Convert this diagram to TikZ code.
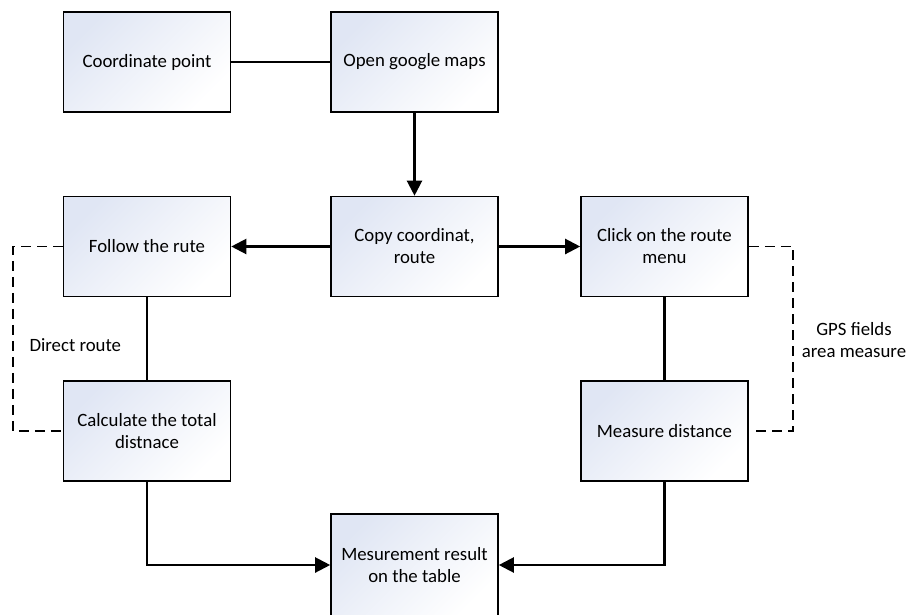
\documentclass[tikz,border=0pt]{standalone}
\usepackage{fontspec}
\setmainfont{Carlito}
\usetikzlibrary{arrows.meta}
\definecolor{boxtop}{RGB}{224,230,244}
\begin{document}
\begin{tikzpicture}[x=1pt,y=-1pt,
  txt/.style={font=\fontsize{18.8}{22}\selectfont, align=center},
  box/.style={txt, draw, line width=1.6pt, minimum width=167pt, minimum height=100pt,
    inner sep=0pt, top color=boxtop, bottom color=white, shading angle=45},
  conn/.style={line width=2.2pt},
  arr/.style={conn, -{Triangle[length=15pt,width=15pt]}},
  dsh/.style={line width=1.4pt, dash pattern=on 10pt off 6pt}]
\clip (0,0) rectangle (908,614);
\useasboundingbox (0,0) rectangle (908,614);
\node[box] (cp) at (147,62) {Coordinate point};
\node[box] (og) at (414.5,62) {Open google maps};
\node[box] (cc) at (414.5,246.5) {Copy coordinat,\\route};
\node[box] (fr) at (147,246.5) {Follow the rute};
\node[box] (cr) at (664.5,246.5) {Click on the route\\menu};
\node[box] (ct) at (147,431) {Calculate the total\\distnace};
\node[box] (md) at (664.5,431) {Measure distance};
\node[box, minimum height=102pt] (mr) at (414.5,565) {Mesurement result\\on the table};
\coordinate (lx) at (13,0);
\coordinate (rx) at (793,0);
\draw[conn] (cp) -- (og);
\draw[arr] (og) -- (cc);
\draw[arr] (cc) -- (fr);
\draw[arr] (cc) -- (cr);
\draw[conn] (fr) -- (ct);
\draw[conn] (cr) -- (md);
\draw[arr] (ct.south) |- (mr.west);
\draw[arr] (md.south) |- (mr.east);
\draw[dsh] (fr.west) -- (fr.west -| lx) |- (ct.west);
\draw[dsh] (cr.east) -- (cr.east -| rx) |- ([xshift=5pt]md.east);
\node[txt, anchor=west] (dr) at (26,345) {Direct route};
\node[txt] (gps) at (854,340) {GPS fields\\area measure};
\end{tikzpicture}
\end{document}
